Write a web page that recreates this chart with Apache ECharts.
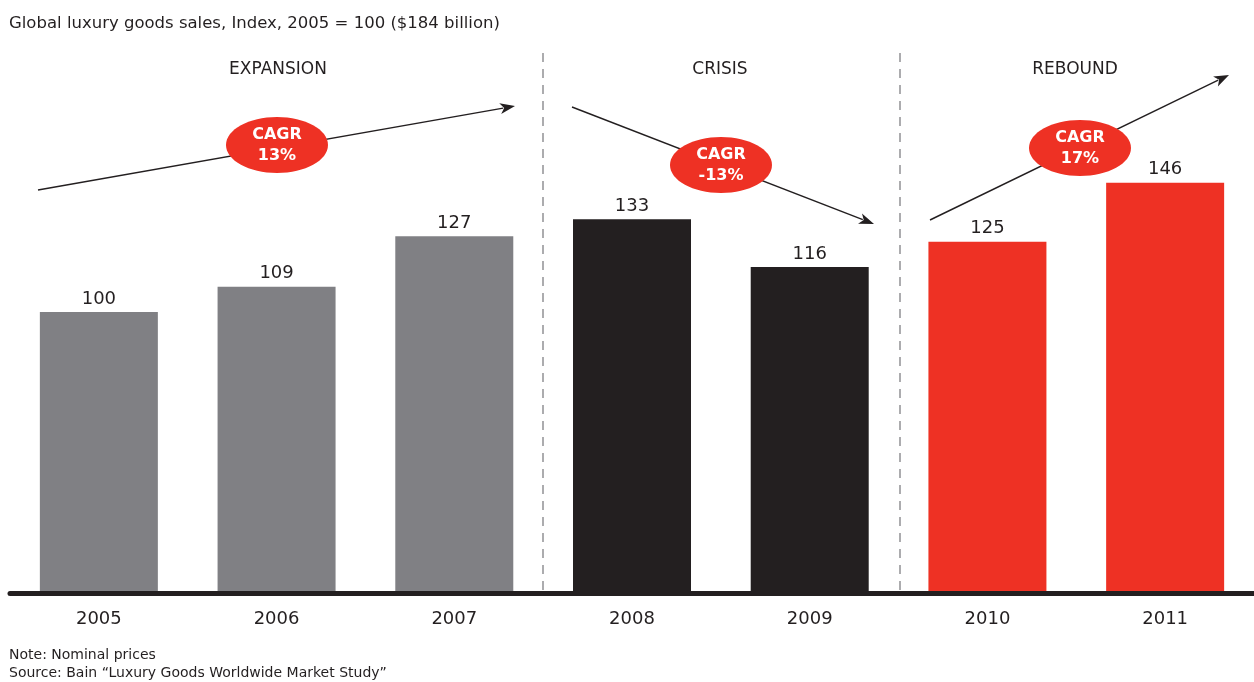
<!DOCTYPE html>
<html><head><meta charset="utf-8">
<script src="https://cdn.jsdelivr.net/npm/echarts@6/dist/echarts.min.js"></script>
<style>html,body{margin:0;padding:0;background:#fff}#c{width:1254px;height:682px}</style>
</head><body><div id="c"></div>
<script>
const years = ['2005','2006','2007','2008','2009','2010','2011'];
const values = [100,109,127,133,116,125,146];
const phaseOfYear = ['exp','exp','exp','cri','cri','reb','reb'];
const phaseNames = ['EXPANSION','CRISIS','REBOUND'];
const cagrLabels = ['CAGR\n13%','CAGR\n-13%','CAGR\n17%'];
const titleText = 'Global luxury goods sales, Index, 2005 = 100 ($184 billion)';
const noteText = 'Note: Nominal prices';
const sourceText = 'Source: Bain \u201cLuxury Goods Worldwide Market Study\u201d';

const colors = {exp:'#808084', cri:'#231f20', reb:'#ee3124'};
const FONT = '"DejaVu Sans", sans-serif';
const TXT = '#231f20';

function arrow(x1,y1,x2,y2){
  const dx=x2-x1, dy=y2-y1, L=Math.hypot(dx,dy), ux=dx/L, uy=dy/L;
  const hl=15, hw=5.5;
  const bx=x2-ux*hl, by=y2-uy*hl;
  return [
    {type:'line', shape:{x1:x1,y1:y1,x2:bx+ux*3,y2:by+uy*3}, style:{stroke:'#231f20', lineWidth:1.4}, z:5},
    {type:'polygon', shape:{points:[[x2,y2],[bx-uy*hw,by+ux*hw],[bx+ux*4,by+uy*4],[bx+uy*hw,by-ux*hw]]}, style:{fill:'#231f20'}, z:5}
  ];
}
function bubble(cx,cy,text){
  return [
    {type:'ellipse', shape:{cx:cx,cy:cy,rx:51,ry:28}, style:{fill:'#ee3124'}, z:6},
    {type:'text', x:cx, y:cy, style:{text:text, fill:'#fff', font:'bold 16px '+FONT, align:'center', verticalAlign:'middle', lineHeight:21}, z:7}
  ];
}
function dashed(x){
  return {type:'line', shape:{x1:x,y1:53,x2:x,y2:594}, style:{stroke:'#808084', lineWidth:1.3, lineDash:[9,7]}, z:1};
}
const phaseX = [278, 720, 1075];

const graphics = [
  {type:'text', left:9, top:15, style:{text:titleText, fill:TXT, font:'16.5px '+FONT}},
  {type:'text', left:9, top:648, style:{text:noteText, fill:TXT, font:'14px '+FONT}},
  {type:'text', left:9, top:666, style:{text:sourceText, fill:TXT, font:'14px '+FONT}},
  dashed(543), dashed(900),
  ...phaseNames.map((n,i)=>({type:'text', x:phaseX[i], y:70, style:{text:n, fill:TXT, font:'17px '+FONT, align:'center', verticalAlign:'middle'}})),
  ...arrow(38,190,515,106),
  ...arrow(572,107,874,224),
  ...arrow(930,220,1229,75),
  ...bubble(277,145,cagrLabels[0]),
  ...bubble(721,165,cagrLabels[1]),
  ...bubble(1080,148,cagrLabels[2])
];

const chart = echarts.init(document.getElementById('c'));
chart.setOption({
  animation:false,
  grid:{left:10, right:0, top:31, bottom:89, containLabel:false},
  xAxis:{type:'category', data:years, z:3, offset:3,
    axisLine:{lineStyle:{color:'#231f20', width:5}},
    axisTick:{show:false},
    axisLabel:{color:TXT, fontSize:18, fontFamily:FONT, margin:14}},
  yAxis:{type:'value', min:0, max:200, show:false, splitLine:{show:false}},
  series:[{type:'bar', barWidth:118,
    data: values.map((v,i)=>({value:v, itemStyle:{color:colors[phaseOfYear[i]]}})),
    label:{show:true, position:'top', distance:4, color:TXT, fontSize:18, fontFamily:FONT}}],
  graphic: graphics
});
</script></body></html>
